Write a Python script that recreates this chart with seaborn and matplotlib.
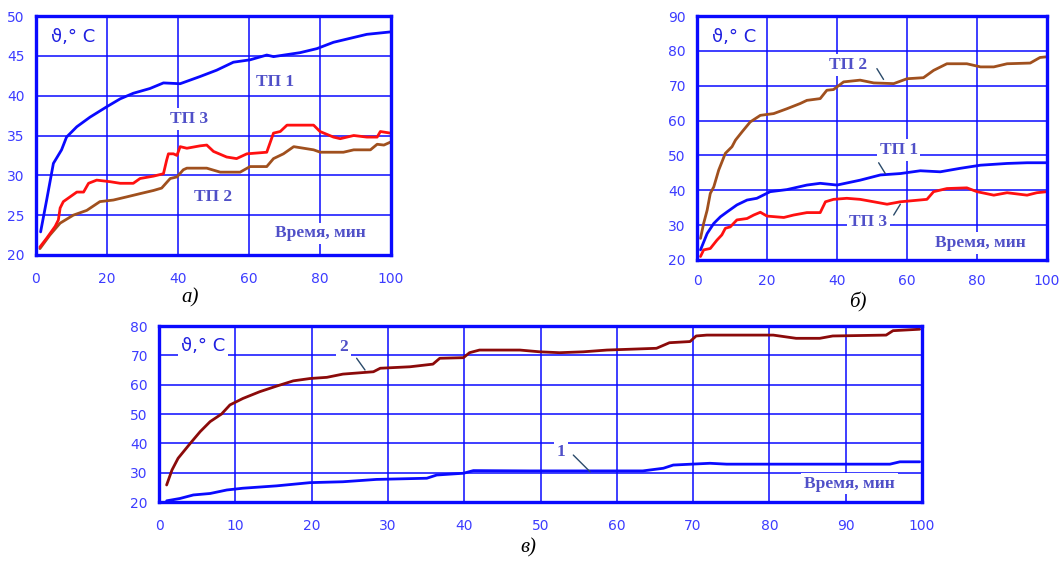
import numpy as np
import pandas as pd
import matplotlib
matplotlib.use("Agg")
import matplotlib.pyplot as plt
import seaborn as sns

# ---- panel a) ----
a_tp1_x = [1.3, 3, 4.9, 7.2, 8.6, 11.5, 15.2, 19.9, 23.7, 27.4, 32.1, 35.9, 40.6, 46.2, 50.9,
           55.6, 60.3, 65, 66.9, 74.4, 79.1, 83.8, 88.5, 93.2, 99.8]
a_tp1_y = [22.9, 26.9, 31.5, 33.2, 34.8, 36.1, 37.3, 38.6, 39.6, 40.3, 40.9, 41.6, 41.5, 42.4, 43.2,
           44.2, 44.5, 45.1, 44.9, 45.4, 45.9, 46.7, 47.2, 47.7, 48.0]
a_tp3_x = [1.1, 3, 5.4, 6.3, 6.8, 7.7, 9.6, 11.5, 13.4, 14.8, 17.1, 20.9, 23.7, 27.4, 29.3, 33.1,
           35.9, 36.8, 37.3, 38.7, 39.7, 40.6, 42.5, 46.2, 48.1, 50, 53.7, 56.5, 59.4, 65, 66.9,
           68.8, 70.7, 74.4, 78.2, 80, 83.8, 85.7, 89.5, 93.2, 96.1, 97, 99.8]
a_tp3_y = [21.0, 22.1, 23.6, 24.4, 25.9, 26.7, 27.3, 27.9, 27.9, 29.0, 29.4, 29.2, 29.0, 29.0, 29.6,
           29.9, 30.2, 31.9, 32.7, 32.7, 32.5, 33.6, 33.4, 33.7, 33.8, 33.0, 32.3, 32.1, 32.7, 32.9,
           35.3, 35.5, 36.3, 36.3, 36.3, 35.5, 34.8, 34.6, 35.0, 34.8, 34.8, 35.5, 35.3]
a_tp2_x = [1.1, 3.9, 6.8, 10.5, 14.3, 18, 21.8, 25.6, 29.3, 33.1, 35.4, 37.8, 39.7, 41.5, 42.5,
           48.1, 51.9, 57.5, 60.3, 65, 66.9, 69.7, 72.6, 78.2, 80.1, 86.6, 89.5, 94.2, 96.1, 98, 100]
a_tp2_y = [20.8, 22.5, 24.0, 25.0, 25.6, 26.7, 26.9, 27.3, 27.7, 28.1, 28.4, 29.6, 29.8, 30.7, 30.9,
           30.9, 30.4, 30.4, 31.1, 31.1, 32.1, 32.7, 33.6, 33.2, 32.9, 32.9, 33.2, 33.2, 33.9, 33.8, 34.2]

# ---- panel б) ----
b_tp2_x = [1, 1.9, 2.9, 3.8, 4.8, 6.2, 8.1, 10, 11, 12.9, 15.2, 18.1, 21.9, 25.7, 29.5, 31.4, 35.2,
           37.1, 39, 41.9, 46.6, 50.5, 56.2, 60, 64.7, 67.6, 71.4, 77.1, 81, 84.8, 88.6, 95.2, 98, 100]
b_tp2_y = [26.2, 30.5, 34.3, 39.1, 41.0, 45.8, 50.6, 52.5, 54.4, 56.8, 59.6, 61.5, 62.0, 63.4, 64.9,
           65.8, 66.3, 68.7, 68.9, 71.1, 71.6, 70.8, 70.6, 72.0, 72.3, 74.4, 76.3, 76.3, 75.4, 75.4,
           76.3, 76.5, 78.1, 78.3]
b_tp1_x = [1, 2.9, 4.8, 6.7, 8.6, 11.4, 14.3, 17.1, 20.9, 25.7, 31.4, 35.2, 40, 46.6, 52.4, 58.1,
           63.8, 69.5, 75.2, 81, 88.6, 94.3, 100]
b_tp1_y = [22.9, 27.6, 30.5, 32.4, 33.8, 35.8, 37.2, 37.7, 39.6, 40.2, 41.5, 42.0, 41.5, 42.9, 44.4,
           44.8, 45.6, 45.3, 46.3, 47.2, 47.7, 47.9, 47.9]
b_tp3_x = [1, 1.9, 3.8, 5.7, 7.1, 8.1, 9.5, 11.4, 14.3, 16.2, 18.1, 20, 24.8, 27.6, 31.4, 35.2, 36.7,
           39, 42.8, 46.6, 50.5, 54.3, 58.1, 65.7, 67.6, 71.4, 77.1, 80, 84.8, 88.6, 94.3, 97.1, 100]
b_tp3_y = [21.0, 22.9, 23.3, 25.7, 27.2, 29.1, 29.5, 31.5, 31.9, 32.9, 33.7, 32.6, 32.2, 32.9, 33.6,
           33.6, 36.7, 37.4, 37.7, 37.4, 36.7, 36.0, 36.7, 37.4, 39.6, 40.5, 40.7, 39.6, 38.6, 39.3,
           38.6, 39.3, 39.6]

# ---- panel в) ----
c_2_x = [1.0, 1.7, 2.5, 4.1, 5.4, 6.7, 8.2, 9.3, 11, 13.2, 15.4, 17.6, 19.8, 22, 24.1, 28.1, 29,
         32.9, 35.9, 36.8, 39.9, 40.7, 42, 44.2, 47.3, 49.9, 52.5, 55.6, 58.7, 65.2, 66.9, 69.6,
         70.4, 71.8, 80.5, 83.5, 86.6, 88.3, 95.3, 96.2, 99.7]
c_2_y = [25.8, 30.9, 34.9, 40.0, 44.0, 47.4, 50.0, 53.1, 55.3, 57.6, 59.5, 61.3, 62.1, 62.5, 63.6,
         64.4, 65.6, 66.1, 67.0, 69.0, 69.2, 70.9, 71.8, 71.8, 71.8, 71.2, 70.9, 71.2, 71.8, 72.4,
         74.3, 74.7, 76.6, 76.9, 76.9, 75.8, 75.8, 76.6, 76.9, 78.4, 78.9]
c_1_x = [1.0, 2.75, 4.5, 6.7, 8.9, 11, 15.4, 19.8, 24.1, 28.5, 35.1, 36.4, 39.9, 41.2, 48.6, 63.4,
         66.1, 67.4, 72.2, 74.4, 95.8, 97.1, 99.7]
c_1_y = [20.4, 21.2, 22.4, 22.9, 24.1, 24.7, 25.5, 26.6, 26.9, 27.7, 28.1, 29.2, 29.8, 30.7, 30.6,
         30.6, 31.5, 32.6, 33.2, 32.9, 32.9, 33.7, 33.7]

BLUE = "#0a0aff"
BROWN = "#a0501e"
RED = "#ff1010"
DARKRED = "#8b0a0a"
TICK_C = "#3c3cff"
LABEL_C = "#5050c8"

sns.set_style("white")
plt.rcParams["font.family"] = ["DejaVu Sans"]

fig = plt.figure(figsize=(10.61, 5.61), dpi=100)
ax_a = fig.add_axes([36 / 1061, 1 - 255 / 561, 355 / 1061, 239 / 561])
ax_b = fig.add_axes([697 / 1061, 1 - 260 / 561, 350 / 1061, 244 / 561])
ax_c = fig.add_axes([159 / 1061, 1 - 502 / 561, 763 / 1061, 176 / 561])


def style_axes(ax, ylim, yticks, xticks, xpad):
    ax.set_xlim(0, 100)
    ax.set_ylim(*ylim)
    ax.set_xticks(xticks)
    ax.set_yticks(yticks)
    ax.set_axisbelow(True)
    ax.grid(True, color=BLUE, linewidth=1.1)
    for s in ax.spines.values():
        s.set_visible(True)
        s.set_color(BLUE)
        s.set_linewidth(2.4)
    ax.tick_params(axis="both", length=0, labelsize=10, labelcolor=TICK_C)
    ax.tick_params(axis="x", pad=xpad)
    ax.tick_params(axis="y", pad=8)
    ax.set_xlabel("")
    ax.set_ylabel("")
    if ax.get_legend() is not None:
        ax.get_legend().remove()


def draw(ax, x, y, color):
    sns.lineplot(x=x, y=y, ax=ax, color=color, linewidth=2.0, sort=False, estimator=None)


def label(ax, x, y, s, size=12.5, color=LABEL_C, serif=True):
    ax.text(x, y, s, ha="center", va="center", fontsize=size, color=color,
            fontweight="bold" if serif else "normal",
            family=["Liberation Serif"] if serif else ["DejaVu Sans"],
            bbox=dict(facecolor="white", edgecolor="none", pad=2), zorder=4)


def leader(ax, p0, p1):
    ax.plot([p0[0], p1[0]], [p0[1], p1[1]], color="#2a4a6a", linewidth=1.0, zorder=5)


# a)
draw(ax_a, a_tp2_x, a_tp2_y, BROWN)
draw(ax_a, a_tp3_x, a_tp3_y, RED)
draw(ax_a, a_tp1_x, a_tp1_y, BLUE)
style_axes(ax_a, (20, 50), range(20, 51, 5), range(0, 101, 20), 12)
label(ax_a, 10.5, 47.4, "ϑ,° C", size=13, color="#2020e0", serif=False)
label(ax_a, 67.4, 41.7, "ТП 1")
label(ax_a, 43, 37.1, "ТП 3")
label(ax_a, 50, 27.3, "ТП 2")
label(ax_a, 80, 22.7, "Время, мин")

# б)
draw(ax_b, b_tp3_x, b_tp3_y, RED)
draw(ax_b, b_tp1_x, b_tp1_y, BLUE)
draw(ax_b, b_tp2_x, b_tp2_y, BROWN)
style_axes(ax_b, (20, 90), range(20, 91, 10), range(0, 101, 20), 10)
label(ax_b, 10.5, 84, "ϑ,° C", size=13, color="#2020e0", serif=False)
label(ax_b, 43.3, 75.9, "ТП 2")
label(ax_b, 57.6, 51.5, "ТП 1")
label(ax_b, 49, 31, "ТП 3")
label(ax_b, 81, 24.8, "Время, мин")
leader(ax_b, (51.4, 74.9), (53.3, 71.8))
leader(ax_b, (51.9, 47.9), (53.8, 44.8))
leader(ax_b, (56.2, 32.9), (58.1, 36.0))

# в)
draw(ax_c, c_1_x, c_1_y, BLUE)
draw(ax_c, c_2_x, c_2_y, DARKRED)
style_axes(ax_c, (20, 80), range(20, 81, 10), range(0, 101, 10), 12)
label(ax_c, 5.8, 73.2, "ϑ,° C", size=13, color="#2020e0", serif=False)
label(ax_c, 24.2, 72.9, "2")
label(ax_c, 52.7, 37.1, "1")
label(ax_c, 90.5, 26.3, "Время, мин")
leader(ax_c, (25.9, 69.0), (27.0, 65.0))
leader(ax_c, (54.3, 36.0), (56.5, 30.3))

# captions
for xf, yf, s in [(190 / 1061, 1 - 298 / 561, "а)"), (858 / 1061, 1 - 302 / 561, "б)"),
                  (528 / 1061, 1 - 548 / 561, "в)")]:
    fig.text(xf, yf, s, ha="center", va="center", fontsize=15, style="italic",
             family=["Liberation Serif"], color="black")

fig.savefig("out.png", dpi=100, facecolor="white")
